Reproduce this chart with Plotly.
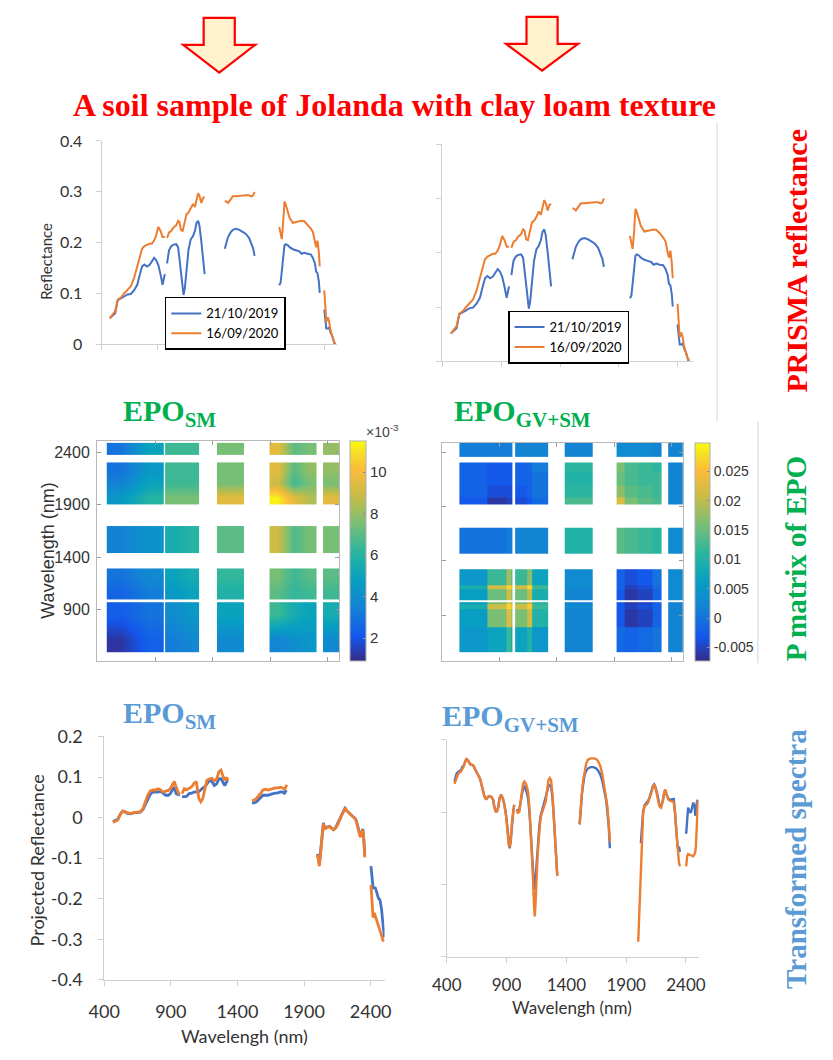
import plotly.graph_objects as go

W, H = 833, 1060

# ---------------------------------------------------------------- data
TICKS_WL = [400, 900, 1400, 1900, 2400]
SERIES_NAMES = ["21/10/2019", "16/09/2020"]
BLUE = "#4472C4"
ORANGE = "#ED7D31"

# PRISMA reflectance (segments separated by water-absorption gaps)
PRISMA_WL = [
    [473, 502, 522, 545, 574, 603, 633, 662, 691, 720, 743, 763, 784, 807, 830, 851, 871, 888, 909, 929, 947, 967],
    [987, 1005, 1025, 1045, 1069, 1086, 1098, 1112, 1127, 1135, 1147, 1162, 1179, 1199, 1220, 1237, 1252, 1266, 1278, 1295, 1310, 1324],
    [1505, 1519, 1534, 1557, 1577, 1606, 1635, 1665, 1694, 1723, 1743, 1760, 1772],
    [1993, 2005, 2016, 2028, 2040, 2051, 2069, 2086, 2115, 2144, 2173, 2194, 2217, 2246, 2275, 2295, 2313, 2324, 2336, 2348, 2356],
    [2397, 2406, 2415, 2429, 2441, 2452, 2470, 2487, 2499],
]
PRISMA_2019 = [
    [0.051, 0.058, 0.061, 0.087, 0.090, 0.094, 0.098, 0.099, 0.106, 0.117, 0.137, 0.153, 0.157, 0.153, 0.156, 0.162, 0.170, 0.166, 0.156, 0.137, 0.117, 0.138],
    [0.159, 0.185, 0.193, 0.196, 0.197, 0.191, 0.169, 0.137, 0.105, 0.097, 0.111, 0.143, 0.185, 0.206, 0.213, 0.223, 0.239, 0.243, 0.233, 0.201, 0.169, 0.138],
    [0.188, 0.201, 0.211, 0.220, 0.225, 0.227, 0.225, 0.221, 0.217, 0.209, 0.198, 0.188, 0.174],
    [0.116, 0.121, 0.143, 0.169, 0.195, 0.197, 0.195, 0.191, 0.187, 0.185, 0.183, 0.178, 0.180, 0.178, 0.177, 0.170, 0.159, 0.143, 0.140, 0.124, 0.101],
    [0.068, 0.053, 0.031, 0.031, 0.033, 0.024, 0.015, 0.002, 0.002],
]
PRISMA_2020 = [
    [0.051, 0.060, 0.065, 0.088, 0.092, 0.100, 0.108, 0.114, 0.130, 0.153, 0.175, 0.188, 0.193, 0.196, 0.198, 0.198, 0.204, 0.213, 0.231, 0.223, 0.211, 0.211],
    [0.209, 0.220, 0.223, 0.230, 0.234, 0.243, 0.241, 0.225, 0.223, 0.230, 0.245, 0.256, 0.259, 0.266, 0.276, 0.270, 0.284, 0.297, 0.292, 0.278, 0.288, 0.290],
    [0.282, 0.281, 0.278, 0.284, 0.291, 0.291, 0.292, 0.292, 0.293, 0.293, 0.291, 0.293, 0.300],
    [0.231, 0.220, 0.207, 0.239, 0.281, 0.275, 0.259, 0.249, 0.239, 0.241, 0.242, 0.243, 0.242, 0.236, 0.228, 0.221, 0.201, 0.191, 0.204, 0.182, 0.153],
    [0.106, 0.079, 0.044, 0.053, 0.044, 0.028, 0.015, 0.003, 0.002],
]

# Transformed spectra, EPO_SM
EPOSM_WL = [
    [466, 483, 502, 522, 539, 556, 575, 600, 624, 648, 672, 692, 709, 726, 745, 765, 784, 806, 823, 843, 862, 882, 896, 911, 926, 940, 960, 969],
    [984, 1001, 1018, 1037, 1057, 1074, 1091, 1110, 1125, 1140, 1154, 1171, 1188, 1208, 1227, 1244, 1261, 1276, 1293, 1305, 1320, 1329],
    [1509, 1526, 1543, 1558, 1575, 1592, 1611, 1631, 1648, 1665, 1684, 1704, 1721, 1738, 1753, 1762, 1770],
    [2001, 2008, 2015, 2025, 2037, 2045, 2054, 2064, 2079, 2093, 2108, 2122, 2137, 2152, 2166, 2181, 2195, 2208, 2220, 2239, 2259, 2273, 2288, 2298, 2312, 2322, 2332, 2341, 2349, 2356],
    [2402, 2410, 2418, 2427, 2435, 2445, 2458, 2470, 2482, 2492, 2504],
]
EPOSM_2019 = [
    [-0.010, -0.007, -0.004, 0.009, 0.016, 0.014, 0.010, 0.009, 0.012, 0.012, 0.014, 0.020, 0.033, 0.047, 0.057, 0.063, 0.063, 0.063, 0.065, 0.060, 0.055, 0.055, 0.059, 0.067, 0.075, 0.059, 0.055, 0.055],
    [0.051, 0.051, 0.052, 0.059, 0.060, 0.063, 0.063, 0.064, 0.068, 0.073, 0.075, 0.083, 0.091, 0.089, 0.079, 0.083, 0.095, 0.096, 0.087, 0.079, 0.089, 0.091],
    [0.036, 0.036, 0.039, 0.044, 0.051, 0.055, 0.055, 0.055, 0.057, 0.059, 0.060, 0.061, 0.063, 0.063, 0.060, 0.065, 0.067],
    [-0.090, -0.105, -0.115, -0.080, -0.035, -0.013, -0.025, -0.024, -0.022, -0.022, -0.027, -0.030, -0.025, -0.016, -0.005, 0.006, 0.015, 0.023, 0.017, 0.011, 0.005, 0.002, -0.004, -0.015, -0.035, -0.045, -0.040, -0.028, -0.055, -0.095],
    [-0.120, -0.146, -0.173, -0.173, -0.174, -0.184, -0.199, -0.203, -0.227, -0.263, -0.295],
]
EPOSM_2020 = [
    [-0.012, -0.010, -0.006, 0.009, 0.016, 0.014, 0.012, 0.010, 0.013, 0.013, 0.014, 0.023, 0.039, 0.055, 0.065, 0.068, 0.068, 0.071, 0.068, 0.063, 0.065, 0.067, 0.071, 0.079, 0.089, 0.075, 0.059, 0.057],
    [0.059, 0.071, 0.068, 0.073, 0.076, 0.084, 0.089, 0.047, 0.039, 0.047, 0.067, 0.092, 0.095, 0.097, 0.091, 0.095, 0.113, 0.117, 0.101, 0.092, 0.099, 0.091],
    [0.041, 0.043, 0.047, 0.052, 0.060, 0.068, 0.070, 0.068, 0.070, 0.072, 0.073, 0.073, 0.075, 0.073, 0.070, 0.075, 0.081],
    [-0.092, -0.110, -0.120, -0.086, -0.038, -0.015, -0.028, -0.026, -0.023, -0.022, -0.027, -0.030, -0.026, -0.018, -0.007, 0.004, 0.014, 0.024, 0.017, 0.010, 0.004, 0.001, -0.006, -0.018, -0.038, -0.048, -0.042, -0.030, -0.058, -0.098],
    [-0.166, -0.219, -0.247, -0.235, -0.243, -0.255, -0.267, -0.275, -0.291, -0.303, -0.303],
]
EPOSM_YTICKS = [-0.4, -0.3, -0.2, -0.1, 0, 0.1, 0.2]
EPOSM_YTICKTEXT = ["-0.4", "-0.3", "-0.2", "-0.1", "0", "0.1", "0.2"]

# Transformed spectra, EPO_GV+SM (axis values not labelled in the source)
EPOGV_WL = [
    [465, 474, 482, 493, 501, 509, 520, 528, 542, 555, 564, 574, 585, 596, 610, 623, 637, 651, 664, 678, 689, 700, 711, 722, 732, 746, 760, 773, 787, 798, 809, 820, 831, 841, 855, 869, 882, 896, 910, 918, 926, 934, 945, 956, 964],
    [986, 994, 1005, 1016, 1027, 1038, 1049, 1059, 1070, 1081, 1092, 1103, 1114, 1122, 1130, 1136, 1141, 1149, 1160, 1174, 1185, 1196, 1212, 1228, 1239, 1250, 1261, 1272, 1283, 1294, 1305, 1316, 1324],
    [1511, 1519, 1530, 1541, 1552, 1566, 1579, 1601, 1628, 1650, 1666, 1683, 1699, 1715, 1732, 1743, 1754, 1764],
    [2001, 2009, 2015, 2023, 2031, 2042, 2056, 2069, 2083, 2097, 2110, 2124, 2135, 2146, 2162, 2178, 2192, 2206, 2219, 2227, 2238, 2255, 2271, 2287, 2298, 2309, 2320, 2331, 2342, 2350],
    [2402, 2410, 2418, 2429, 2440, 2451, 2461, 2472, 2478, 2483, 2491, 2500],
]
EPOGV_2019 = [
    [0.042, 0.049, 0.053, 0.055, 0.056, 0.057, 0.058, 0.062, 0.064, 0.070, 0.073, 0.072, 0.068, 0.066, 0.065, 0.064, 0.059, 0.055, 0.052, 0.046, 0.039, 0.030, 0.024, 0.019, 0.018, 0.021, 0.022, 0.021, 0.017, 0.007, 0.001, 0.001, 0.007, 0.019, 0.024, 0.019, 0.010, -0.005, -0.028, -0.046, -0.050, -0.041, -0.014, 0.001, 0.010],
    [0.004, 0.000, 0.001, 0.013, 0.026, 0.033, 0.035, 0.031, 0.027, 0.017, -0.001, -0.030, -0.063, -0.086, -0.104, -0.107, -0.095, -0.072, -0.048, -0.019, -0.005, 0.001, 0.010, 0.019, 0.028, 0.036, 0.037, 0.035, 0.021, -0.003, -0.037, -0.068, -0.088],
    [-0.017, 0.003, 0.024, 0.039, 0.051, 0.057, 0.060, 0.062, 0.062, 0.060, 0.057, 0.052, 0.044, 0.031, 0.017, 0.001, -0.019, -0.050],
    [None, None, None, -0.043, -0.023, 0.001, 0.010, 0.013, 0.015, 0.021, 0.028, 0.036, 0.038, 0.034, 0.024, 0.010, 0.008, 0.015, 0.027, 0.030, 0.024, 0.018, 0.017, 0.017, 0.018, -0.001, -0.028, -0.050, -0.048, -0.055],
    [-0.030, -0.005, 0.006, 0.001, -0.001, 0.006, 0.013, 0.008, -0.005, -0.001, 0.013, 0.017],
]
EPOGV_2020 = [
    [0.039, 0.044, 0.049, 0.052, 0.054, 0.055, 0.056, 0.059, 0.063, 0.070, 0.073, 0.072, 0.068, 0.066, 0.065, 0.064, 0.059, 0.055, 0.052, 0.046, 0.039, 0.030, 0.024, 0.019, 0.018, 0.021, 0.022, 0.021, 0.017, 0.007, 0.001, 0.001, 0.007, 0.019, 0.024, 0.019, 0.010, -0.005, -0.028, -0.046, -0.048, -0.041, -0.014, 0.001, 0.010],
    [0.003, -0.001, 0.000, 0.015, 0.030, 0.039, 0.042, 0.040, 0.035, 0.026, 0.004, -0.028, -0.063, -0.095, -0.131, -0.144, -0.131, -0.095, -0.059, -0.028, -0.008, -0.001, 0.006, 0.015, 0.030, 0.044, 0.047, 0.044, 0.026, -0.001, -0.037, -0.068, -0.088],
    [-0.017, 0.004, 0.026, 0.044, 0.057, 0.067, 0.072, 0.074, 0.074, 0.073, 0.070, 0.064, 0.054, 0.039, 0.024, 0.008, -0.014, -0.041],
    [-0.179, -0.144, -0.104, -0.063, -0.028, -0.001, 0.009, 0.010, 0.013, 0.019, 0.026, 0.035, 0.038, 0.033, 0.021, 0.008, 0.006, 0.015, 0.028, 0.031, 0.024, 0.017, 0.015, 0.015, 0.013, -0.001, -0.028, -0.055, -0.070, -0.075],
    [-0.075, -0.061, -0.058, -0.059, -0.060, -0.060, -0.061, -0.058, -0.055, -0.048, -0.019, 0.015],
]

# P matrix of EPO_SM (values x 10^-3); band edges in nm, rows bottom->top
PSM_X_EDGES = [[478, 725, 971], [985, 1133, 1281], [1436, 1675], [1893, 2030, 2167, 2304], [2358, 2498]]
PSM_Y_EDGES = [[487, 728, 968], [993, 1142, 1291], [1437, 1697], [1900, 2035, 2170, 2306], [2374, 2493]]
PSM_Z = [
    [1.2, 2.4, 3.3, 3.7, 3.8, 3.6, 4.0, 4.4, 3.8],
    [2.3, 3.0, 4.0, 4.5, 5.0, 6.5, 5.5, 5.0, 5.5],
    [2.5, 3.3, 4.5, 5.0, 5.8, 7.0, 6.3, 6.5, 6.5],
    [3.0, 3.8, 5.0, 5.5, 6.3, 7.5, 6.5, 7.0, 7.0],
    [3.5, 4.2, 5.5, 6.0, 7.0, 9.0, 6.8, 7.5, 7.5],
    [4.5, 6.0, 7.5, 7.5, 9.5, 11.3, 9.5, 8.5, 9.5],
    [3.5, 5.0, 6.5, 6.5, 7.5, 9.0, 6.5, 7.5, 7.5],
    [3.0, 4.5, 6.5, 6.5, 7.5, 9.5, 7.0, 8.0, 8.0],
    [3.0, 5.0, 6.5, 6.5, 7.5, 9.5, 7.0, 7.5, 8.0],
]
PSM_CBAR_TICKS = [2, 4, 6, 8, 10]

# P matrix of EPO_GV+SM (cell edges in nm; narrow cells = bright stripes)
PGV_X_EDGES = [[550, 790, 960, 1000, 1014], [1036, 1140, 1180, 1324], [1468, 1714],
               [1920, 1990, 2100, 2230, 2316], [2370, 2497]]
PGV_Y_EDGES = [[556, 790, 960, 1000, 1020], [1035, 1140, 1180, 1324], [1466, 1707],
               [1918, 1990, 2100, 2230, 2309], [2363, 2490]]
PGV_Z = [
    [0.005, 0.007, 0.012, 0.007, 0.007, 0.010, 0.005, 0.002, -0.001, -0.002, -0.001, 0.000, 0.002],
    [0.006, 0.016, 0.022, 0.016, 0.016, 0.021, 0.010, 0.002, -0.003, -0.006, -0.005, -0.002, 0.002],
    [0.009, 0.021, 0.027, 0.021, 0.021, 0.026, 0.012, 0.003, -0.003, -0.005, -0.004, -0.002, 0.002],
    [0.006, 0.016, 0.022, 0.016, 0.016, 0.021, 0.010, 0.002, -0.003, -0.006, -0.005, -0.002, 0.002],
    [0.006, 0.015, 0.021, 0.015, 0.015, 0.020, 0.009, 0.002, -0.003, -0.006, -0.005, -0.002, 0.003],
    [0.009, 0.021, 0.027, 0.021, 0.021, 0.027, 0.012, 0.003, -0.002, -0.005, -0.004, -0.001, 0.003],
    [0.005, 0.012, 0.018, 0.012, 0.012, 0.017, 0.007, 0.003, -0.002, -0.004, -0.003, 0.000, 0.003],
    [0.000, 0.000, 0.001, 0.001, 0.002, 0.002, 0.002, 0.010, 0.014, 0.013, 0.012, 0.011, 0.003],
    [-0.003, -0.006, -0.005, -0.005, -0.004, -0.003, -0.001, 0.013, 0.022, 0.016, 0.014, 0.013, 0.002],
    [-0.002, -0.004, -0.004, -0.004, -0.003, -0.002, 0.000, 0.011, 0.017, 0.014, 0.013, 0.012, 0.002],
    [-0.002, -0.003, -0.003, -0.003, -0.002, -0.002, 0.000, 0.010, 0.015, 0.013, 0.012, 0.012, 0.002],
    [-0.002, -0.003, -0.003, -0.003, -0.002, -0.001, 0.001, 0.011, 0.016, 0.013, 0.012, 0.011, 0.002],
    [0.001, 0.001, 0.001, 0.001, 0.002, 0.002, 0.002, 0.002, 0.003, 0.003, 0.003, 0.002, 0.002],
]
PGV_CBAR_TICKS = [-0.005, 0, 0.005, 0.01, 0.015, 0.02, 0.025]
PGV_CBAR_TEXT = ["-0.005", "0", "0.005", "0.01", "0.015", "0.02", "0.025"]

PARULA = [
    [0.00, "rgb(53,42,135)"], [0.11, "rgb(20,87,236)"], [0.24, "rgb(20,129,214)"],
    [0.37, "rgb(7,160,193)"], [0.49, "rgb(39,181,160)"], [0.62, "rgb(118,191,119)"],
    [0.75, "rgb(199,188,70)"], [0.87, "rgb(252,187,59)"], [0.94, "rgb(245,220,40)"],
    [1.00, "rgb(249,251,14)"],
]

# ---------------------------------------------------------------- helpers
def px(x):
    return x / W


def py(y):
    return 1 - y / H


def join(segs):
    out = []
    for i, s in enumerate(segs):
        if i:
            out.append(None)
        out.extend(s)
    return out


EXCEL_FONT = "Lato"
SERIF = "Liberation Serif"
MATLAB_FONT = "Liberation Sans"
GRID_GREY = "#d0d0d0"

fig = go.Figure()


def add_pair(wl, s1, s2, xa, ya, width, legend=None):
    for name, vals, col in ((SERIES_NAMES[0], s1, BLUE), (SERIES_NAMES[1], s2, ORANGE)):
        fig.add_trace(go.Scatter(
            x=join(wl), y=join(vals), mode="lines", name=name,
            line=dict(color=col, width=width), connectgaps=False,
            xaxis=xa, yaxis=ya, showlegend=legend is not None,
            legend=legend or "legend", hoverinfo="skip"))


add_pair(PRISMA_WL, PRISMA_2019, PRISMA_2020, "x", "y", 2, "legend")
add_pair(PRISMA_WL, PRISMA_2019, PRISMA_2020, "x2", "y2", 2, "legend2")
add_pair(EPOSM_WL, EPOSM_2019, EPOSM_2020, "x5", "y5", 2.8)
add_pair(EPOGV_WL, EPOGV_2019, EPOGV_2020, "x6", "y6", 2.4)


def add_blocks(xedges, yedges, Z, xa, ya, cax, smooth):
    r0 = 0
    for yb in yedges:
        nr = len(yb) - 1
        c0 = 0
        for xb in xedges:
            nc = len(xb) - 1
            sub = [row[c0:c0 + nc] for row in Z[r0:r0 + nr]]
            fig.add_trace(go.Heatmap(x=xb, y=yb, z=sub, coloraxis=cax, xaxis=xa, yaxis=ya,
                                     zsmooth=smooth, hoverinfo="skip"))
            c0 += nc
        r0 += nr


add_blocks(PSM_X_EDGES, PSM_Y_EDGES, PSM_Z, "x3", "y3", "coloraxis", "best")
add_blocks(PGV_X_EDGES, PGV_Y_EDGES, PGV_Z, "x4", "y4", "coloraxis2", False)

# ---------------------------------------------------------------- axes
def excel_axis(domain, rng, anchor, tickvals, labels, fs, standoff, ticktext=None):
    d = dict(domain=domain, range=rng, anchor=anchor, tickvals=tickvals,
             showticklabels=labels, showgrid=False, zeroline=False, showline=True,
             linecolor=GRID_GREY, linewidth=1, ticks="outside", ticklen=5,
             tickcolor=GRID_GREY, tickfont=dict(family=EXCEL_FONT, size=fs, color="#333333"),
             ticklabelstandoff=standoff)
    if ticktext is not None:
        d["ticktext"] = ticktext
    return d


def matlab_axis(domain, rng, anchor, labels):
    return dict(domain=domain, range=rng, anchor=anchor, tickvals=[900, 1400, 1900, 2400],
                showticklabels=labels, showgrid=False, zeroline=False, showline=True,
                mirror="ticks", linecolor="#b8b8b8", linewidth=1, ticks="inside", ticklen=4,
                tickcolor="#9a9a9a", tickfont=dict(family=MATLAB_FONT, size=16, color="#333333"),
                ticklabelstandoff=3)


Y_PRISMA = [0, 0.1, 0.2, 0.3, 0.4]
layout_axes = dict(
    xaxis=excel_axis([px(88), px(330)], [400, 2510], "y", TICKS_WL, False, 16, 0),
    yaxis=excel_axis([py(339.3), py(131.7)], [0, 0.4], "x", Y_PRISMA, True, 16, 10),
    xaxis2=excel_axis([px(438.3), px(696.7)], [400, 2532], "y2", TICKS_WL, False, 16, 0),
    yaxis2=excel_axis([py(356.7), py(135)], [0, 0.4], "x2", Y_PRISMA, False, 16, 0),
    xaxis3=matlab_axis([px(83.3), px(332.3)], [393, 2498], "y3", False),
    yaxis3=matlab_axis([py(663), py(438)], [403, 2512], "x3", True),
    xaxis4=matlab_axis([px(438.3), px(685.7)], [400, 2497], "y4", False),
    yaxis4=matlab_axis([py(663), py(440)], [475, 2490], "x4", False),
    xaxis5=excel_axis([px(90.7), px(379)], [400, 2504], "y5", TICKS_WL, True, 18, 11),
    yaxis5=excel_axis([py(988.3), py(739.8)], [-0.4, 0.2], "x5",
                      EPOSM_YTICKS, True, 18, 12, EPOSM_YTICKTEXT),
    xaxis6=excel_axis([px(443), px(702)], [400, 2506], "y6", TICKS_WL, True, 17, 8),
    yaxis6=excel_axis([py(965), py(743)], [-0.2, 0.1], "x6", [-0.2, -0.1, 0, 0.1], False, 17, 0),
)

# ---------------------------------------------------------------- annotations
ann = []


def text(x, y, t, size, color, family=EXCEL_FONT, angle=0, xanchor="center", yanchor="middle"):
    ann.append(dict(x=px(x), y=py(y), xref="paper", yref="paper", text=t, showarrow=False,
                    textangle=angle, xanchor=xanchor, yanchor=yanchor,
                    font=dict(family=family, size=size, color=color)))


RED = "#FF0000"
GREEN = "#00B050"
LBLUE = "#5B9BD5"

text(389.5, 95, "<b>A soil sample of Jolanda with clay loam texture</b>", 32, RED, SERIF)
text(31, 255, "Reflectance", 15, "#333333", angle=-90)
text(22, 866, "Projected Reflectance", 18, "#333333", angle=-90)
text(235, 1046, "Wavelengh (nm)", 18, "#333333")
text(572, 1017, "Wavelengh (nm)", 17, "#333333")
text(32, 550, "Wavelength (nm)", 18, "#333333", MATLAB_FONT, angle=-90)
text(377, 428, "\u00d710<sup>-3</sup>", 14, "#444444", MATLAB_FONT)

text(108, 410, "<b>EPO<sub>SM</sub></b>", 30, GREEN, SERIF, xanchor="left")
text(448, 410, "<b>EPO<sub>GV+SM</sub></b>", 30, GREEN, SERIF, xanchor="left")
text(108, 718, "<b>EPO<sub>SM</sub></b>", 30, LBLUE, SERIF, xanchor="left")
text(436, 721, "<b>EPO<sub>GV+SM</sub></b>", 30, LBLUE, SERIF, xanchor="left")

text(803, 254, "<b>PRISMA reflectance</b>", 30, RED, SERIF, angle=-90)
text(803, 558, "<b>P matrix of EPO</b>", 29, GREEN, SERIF, angle=-90)
text(802, 865, "<b>Transformed spectra</b>", 29, LBLUE, SERIF, angle=-90)

# ---------------------------------------------------------------- shapes
def path(points):
    return "M " + " L ".join(f"{px(x):.5f},{py(y):.5f}" for x, y in points) + " Z"


def arrow(cx, half_shaft, half_head, top, shoulder, tip):
    return [(cx - half_shaft, top), (cx + half_shaft, top), (cx + half_shaft, shoulder),
            (cx + half_head, shoulder), (cx, tip), (cx - half_head, shoulder),
            (cx - half_shaft, shoulder)]


shapes = []
for cx, top, sh, tip in ((209, 6, 33.5, 62), (541, 5, 32.5, 60)):
    shapes.append(dict(type="path", xref="paper", yref="paper",
                       path=path(arrow(cx, 16, 37, top, sh, tip)),
                       fillcolor="#FFF2CC", line=dict(color=RED, width=2.2)))
for x0, y0, y1 in ((721, 113, 418), (763, 418, 665)):
    shapes.append(dict(type="line", xref="paper", yref="paper", x0=px(x0), x1=px(x0),
                       y0=py(y0), y1=py(y1), line=dict(color="#d4d4d4", width=1)))

# ---------------------------------------------------------------- layout
legend_common = dict(bgcolor="white", bordercolor="black", borderwidth=1.5,
                     font=dict(family=EXCEL_FONT, size=13, color="black"),
                     xanchor="left", yanchor="top", itemwidth=30, tracegroupgap=0)

fig.update_layout(
    width=W, height=H, margin=dict(l=0, r=0, t=0, b=0),
    paper_bgcolor="white", plot_bgcolor="white",
    showlegend=True,
    legend=dict(x=px(153), y=py(291), **legend_common),
    legend2=dict(x=px(506), y=py(305), **legend_common),
    coloraxis=dict(colorscale=PARULA, cmin=0.9, cmax=11.5,
                   colorbar=dict(x=px(343), xanchor="left", y=py(550.5), yanchor="middle",
                                 len=225 / H, lenmode="fraction", thickness=16, xpad=0, ypad=0,
                                 outlinewidth=1, outlinecolor="#b0b0b0",
                                 tickvals=PSM_CBAR_TICKS, ticks="inside", ticklen=3,
                                 tickcolor="#909090",
                                 tickfont=dict(family=MATLAB_FONT, size=15, color="#333333"))),
    coloraxis2=dict(colorscale=PARULA, cmin=-0.0073, cmax=0.0298,
                    colorbar=dict(x=px(698), xanchor="left", y=py(551.5), yanchor="middle",
                                  len=223 / H, lenmode="fraction", thickness=15, xpad=0, ypad=0,
                                  outlinewidth=1, outlinecolor="#b0b0b0",
                                  tickvals=PGV_CBAR_TICKS, ticktext=PGV_CBAR_TEXT,
                                  ticks="inside", ticklen=3, tickcolor="#909090",
                                  tickfont=dict(family=MATLAB_FONT, size=14, color="#333333"))),
    annotations=ann,
    shapes=shapes,
    **layout_axes,
)

fig.write_html("out.html")
